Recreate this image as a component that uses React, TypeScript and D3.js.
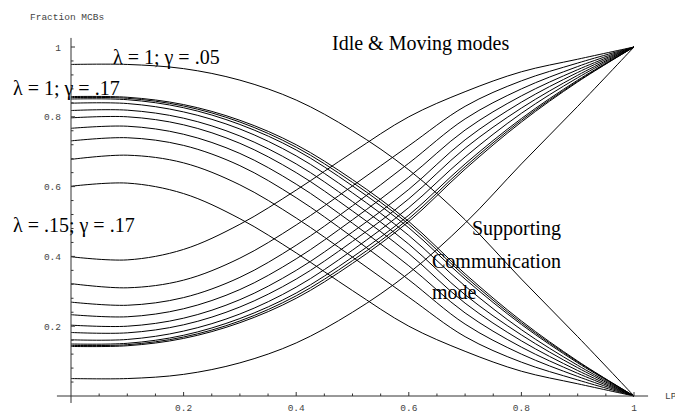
import React from "react";
import * as d3 from "d3";

// x positions (LP) at which curve values were read
const xs = [0, 0.1, 0.2, 0.3, 0.4, 0.5, 0.6, 0.7, 0.8, 0.9, 1];

// Fraction of MCBs in "Supporting Communication mode" (decreasing curves)
const g05 = [0.95, 0.95, 0.938, 0.905, 0.848, 0.76, 0.648, 0.505, 0.335, 0.17, 0];
const s1 = [0.858, 0.856, 0.835, 0.79, 0.72, 0.62, 0.5, 0.35, 0.215, 0.1, 0];
const s2 = [0.855, 0.853, 0.831, 0.785, 0.713, 0.612, 0.492, 0.343, 0.21, 0.098, 0];
const s3 = [0.851, 0.849, 0.826, 0.778, 0.705, 0.602, 0.482, 0.335, 0.205, 0.095, 0];
const s4 = [0.839, 0.838, 0.814, 0.765, 0.688, 0.582, 0.46, 0.315, 0.19, 0.088, 0];
const s5 = [0.818, 0.819, 0.796, 0.745, 0.665, 0.557, 0.435, 0.29, 0.175, 0.081, 0];
const s6 = [0.797, 0.8, 0.777, 0.724, 0.64, 0.53, 0.408, 0.266, 0.158, 0.073, 0];
const s7 = [0.767, 0.773, 0.75, 0.695, 0.607, 0.495, 0.373, 0.238, 0.14, 0.065, 0];
const s8 = [0.731, 0.74, 0.718, 0.66, 0.568, 0.455, 0.333, 0.206, 0.12, 0.056, 0];
const s9 = [0.678, 0.69, 0.668, 0.605, 0.51, 0.398, 0.283, 0.17, 0.097, 0.046, 0];
const s10 = [0.601, 0.61, 0.58, 0.508, 0.41, 0.302, 0.2, 0.128, 0.071, 0.035, 0];

const supportingSeries = [g05, s1, s2, s3, s4, s5, s6, s7, s8, s9, s10];
// Idle & Moving modes fraction is the complement of the supporting fraction
const idleSeries = supportingSeries.map((s) => s.map((v) => 1 - v));

const xTickLabels = ["0.2", "0.4", "0.6", "0.8", "1"];
const xTickValues = [0.2, 0.4, 0.6, 0.8, 1];
const yTickLabels = ["0.2", "0.4", "0.6", "0.8", "1"];
const yTickValues = [0.2, 0.4, 0.6, 0.8, 1];
const xMinor = d3.range(1, 20).map((i) => i * 0.05).filter((v) => Math.abs(v * 5 - Math.round(v * 5)) > 1e-6);
const yMinor = d3.range(1, 26).map((i) => i * 0.04).filter((v) => v < 1.001 && Math.abs(v * 5 - Math.round(v * 5)) > 1e-6);

const W = 675;
const H = 413;

export default function App() {
  const x = d3.scaleLinear().domain([0, 1]).range([71, 634]);
  const y = d3.scaleLinear().domain([0, 1]).range([396, 47]);
  const line = d3
    .line<number>()
    .x((_, i) => x(xs[i]))
    .y((d) => y(d))
    .curve(d3.curveCatmullRom.alpha(0.5));

  const mono = "'Liberation Mono', 'DejaVu Sans Mono', monospace";
  const serif = "'Liberation Serif', 'DejaVu Serif', serif";
  const axisColor = "#333";
  const labelColor = "#444";

  return (
    <svg
      width={W}
      height={H}
      viewBox={`0 0 ${W} ${H}`}
      style={{ position: "absolute", left: 0, top: 0, background: "#fff" }}
    >
      {/* curves */}
      <g fill="none" stroke="#000" strokeWidth={1}>
        {supportingSeries.map((s, i) => (
          <path key={"s" + i} d={line(s) || ""} />
        ))}
        {idleSeries.map((s, i) => (
          <path key={"i" + i} d={line(s) || ""} />
        ))}
      </g>

      {/* axes */}
      <g stroke={axisColor} strokeWidth={1}>
        <line x1={x(-0.025)} x2={x(1.025)} y1={y(0)} y2={y(0)} />
        <line x1={x(0)} x2={x(0)} y1={y(-0.02)} y2={y(1.026)} />
        {xTickValues.map((v) => (
          <line key={"xt" + v} x1={x(v)} x2={x(v)} y1={y(0)} y2={y(0) - 4} />
        ))}
        {xMinor.map((v) => (
          <line key={"xm" + v} x1={x(v)} x2={x(v)} y1={y(0)} y2={y(0) - 2.5} />
        ))}
        {yTickValues.map((v) => (
          <line key={"yt" + v} x1={x(0)} x2={x(0) + 4} y1={y(v)} y2={y(v)} />
        ))}
        {yMinor.map((v) => (
          <line key={"ym" + v} x1={x(0)} x2={x(0) + 2.5} y1={y(v)} y2={y(v)} />
        ))}
      </g>

      {/* tick labels */}
      <g fontFamily={mono} fontSize={9.5} fill={labelColor}>
        {xTickValues.map((v, i) => (
          <text key={"xl" + v} x={x(v)} y={y(0) + 15} textAnchor="middle">
            {xTickLabels[i]}
          </text>
        ))}
        {yTickValues.map((v, i) => (
          <text key={"yl" + v} x={x(0) - 10} y={y(v) + 3.5} textAnchor="end">
            {yTickLabels[i]}
          </text>
        ))}
        <text x={30} y={20} fontSize={9.5}>Fraction MCBs</text>
        <text x={665} y={399} fontSize={9.5}>LP</text>
      </g>

      {/* annotations */}
      <g fontFamily={serif} fontSize={20} fill="#000">
        <text x={113} y={64}>λ = 1; γ = .05</text>
        <text x={13} y={95}>λ = 1; γ = .17</text>
        <text x={13} y={232}>λ = .15; γ = .17</text>
        <text x={332} y={50}>Idle &amp; Moving modes</text>
        <text x={472} y={235}>Supporting</text>
        <text x={432} y={268}>Communication</text>
        <text x={432} y={299}>mode</text>
      </g>
    </svg>
  );
}
